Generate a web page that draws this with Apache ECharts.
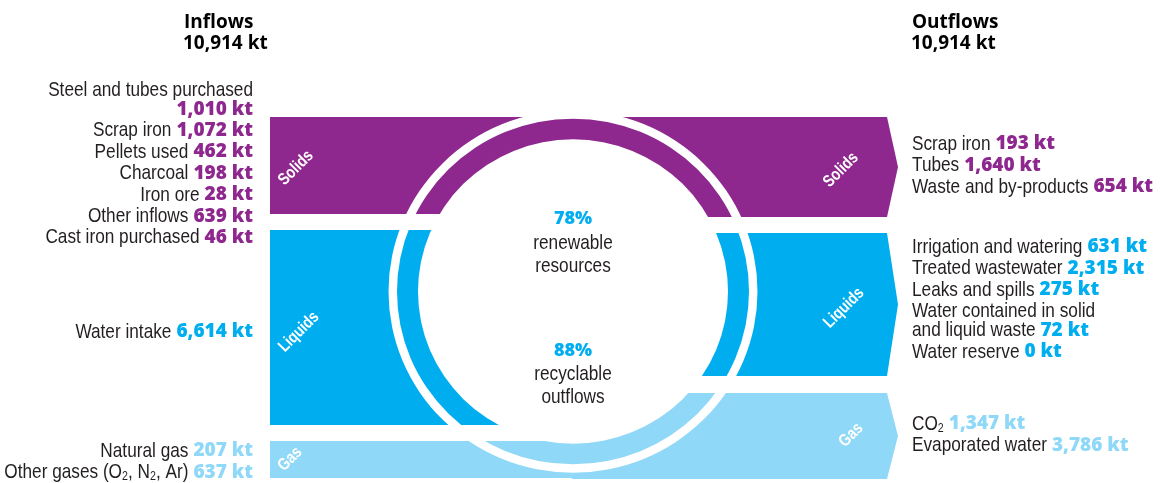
<!DOCTYPE html>
<html>
<head>
<meta charset="utf-8">
<title>Inflows / Outflows</title>
<style>
html, body { margin: 0; padding: 0; background: #fff; }
#chart { width: 1162px; height: 483px; }
</style>
<script src="https://cdn.jsdelivr.net/npm/echarts@6/dist/echarts.min.js"></script>
</head>
<body>
<div id="chart"></div>
<script>
// material groups
var groups = ['Solids', 'Liquids', 'Gas'];
var groupColors = ['#8e288e', '#00aeef', '#8fd8f7'];

// inflows (kt)
var inflowNames = ['Steel and tubes purchased\n', 'Scrap iron', 'Pellets used', 'Charcoal', 'Iron ore',
    'Other inflows', 'Cast iron purchased', 'Water intake', 'Natural gas', 'Other gases (O₂, N₂, Ar)'];
var inflowValues = [1010, 1072, 462, 198, 28, 639, 46, 6614, 207, 637];
var inflowGroup = [0, 0, 0, 0, 0, 0, 0, 1, 2, 2];

// outflows (kt)
var outflowNames = ['Scrap iron', 'Tubes', 'Waste and by-products', 'Irrigation and watering',
    'Treated wastewater', 'Leaks and spills', 'Water contained in solid\nand liquid waste',
    'Water reserve', 'CO₂', 'Evaporated water'];
var outflowValues = [193, 1640, 654, 631, 2315, 275, 72, 0, 1347, 3786];
var outflowGroup = [0, 0, 0, 1, 1, 1, 1, 1, 2, 2];

var totalTitles = ['Inflows', 'Outflows'];
var totals = [10914, 10914];
var ratioValues = [78, 88];
var ratioLabels = [['renewable', 'resources'], ['recyclable', 'outflows']];

// layout, in units of the hidden 1162 x 483 axes
var inBandTop = [117, 230, 441], inBandBottom = [214, 425, 478];
var outBandTop = [117, 233, 393], outBandBottom = [217, 376, 479];
var bandLeft = 270, bandMid = 573, bandRight = 887, arrowTip = 898;
var ringCenter = [573, 291.5], ringInner = 155, gapInner = 176, gapOuter = 184.5, ringSquash = 0.982;

var inTextX = 253, outTextX = 912;
var inTextStart = [90, 332, 451], outTextStart = [144, 247, 424];
var lineStep = 21.4, wrapStep = 19.2;
var inBandLabelPos = [[296, 168], [299, 332], [290, 459]];
var outBandLabelPos = [[841, 170], [844, 308], [851, 435]];

// no narrow font installed: squeeze Liberation Sans instead
var LABEL_FONT = '"Liberation Sans", Arial, sans-serif';
var LABEL_SIZE = 21, SUB_SIZE = 13, NARROW = 0.82;
var VALUE_FONT = '"Open Sans", "Lato", sans-serif';
var VALUE_SIZE = 19;
var SPACE = 5;

var measureCtx = document.createElement('canvas').getContext('2d');
function textWidth(str, font) {
    measureCtx.font = font;
    return measureCtx.measureText(str).width;
}

function kt(v) {
    return v.toLocaleString('en-US') + ' kt';
}

function groupSum(values, grp, g) {
    var s = 0;
    for (var i = 0; i < values.length; i++) if (grp[i] === g) s += values[i];
    return s;
}

var nameRich = {
    n: {fill: '#231f20', fontFamily: LABEL_FONT, fontSize: LABEL_SIZE, verticalAlign: 'middle'},
    s: {fill: '#231f20', fontFamily: LABEL_FONT, fontSize: SUB_SIZE, verticalAlign: 'bottom'}
};

// name text -> rich string, ₂ becomes a real subscript
function nameRichText(name) {
    return '{n|' + name.split('₂').join('}{s|2}{n|') + '}';
}
function nameWidth(name) {
    var parts = name.split('₂');
    var w = 0;
    parts.forEach(function (p) { w += textWidth(p, LABEL_SIZE + 'px ' + LABEL_FONT); });
    w += (parts.length - 1) * textWidth('2', SUB_SIZE + 'px ' + LABEL_FONT);
    return w * NARROW;
}

function nameEl(name, x, y, align) {
    return {
        type: 'text', x: x, y: y, z: 20, silent: true, scaleX: NARROW,
        style: {text: nameRichText(name), rich: nameRich, align: align, verticalAlign: 'middle',
            fontFamily: LABEL_FONT, fontSize: LABEL_SIZE}
    };
}
function valueEl(text, color, x, y, align) {
    return {
        type: 'text', x: x, y: y, z: 20, silent: true,
        style: {text: text, fill: color, fontFamily: VALUE_FONT, fontSize: VALUE_SIZE, fontWeight: 800,
            align: align, verticalAlign: 'middle'}
    };
}

function textBlock(names, values, grp, g, x, y0, side) {
    var els = [];
    var y = y0;
    var first = true;
    var vFont = '800 ' + VALUE_SIZE + 'px ' + VALUE_FONT;
    for (var i = 0; i < names.length; i++) {
        if (grp[i] !== g) continue;
        var parts = names[i].split('\n');
        for (var j = 0; j < parts.length; j++) {
            if (!first) y += j > 0 ? wrapStep : lineStep;
            first = false;
            var name = parts[j];
            var value = j === parts.length - 1 ? kt(values[i]) : null;
            if (side === 0) {
                var vx = x;
                if (value) {
                    els.push(valueEl(value, groupColors[g], x, y, 'right'));
                    vx = x - textWidth(value, vFont) - SPACE;
                }
                if (name) els.push(nameEl(name, vx, y, 'right'));
            } else {
                var nx = x;
                if (name) {
                    els.push(nameEl(name, x, y, 'left'));
                    nx = x + nameWidth(name) + SPACE;
                }
                if (value) els.push(valueEl(value, groupColors[g], nx, y, 'left'));
            }
        }
    }
    return els;
}

var texts = [];
groups.forEach(function (g, i) {
    texts = texts.concat(textBlock(inflowNames, inflowValues, inflowGroup, i, inTextX, inTextStart[i], 0));
    texts = texts.concat(textBlock(outflowNames, outflowValues, outflowGroup, i, outTextX, outTextStart[i], 1));
    // rotated band names
    [inBandLabelPos[i], outBandLabelPos[i]].forEach(function (p) {
        texts.push({
            type: 'text', x: p[0], y: p[1], rotation: Math.PI / 4, scaleX: NARROW, z: 20, silent: true,
            style: {text: g, fill: '#fff', fontFamily: LABEL_FONT, fontSize: 17, fontWeight: 'bold',
                align: 'center', verticalAlign: 'middle'}
        });
    });
});

// titles
[184, 912].forEach(function (x, i) {
    texts.push({type: 'text', x: x, y: 22.5, z: 20, silent: true,
        style: {text: totalTitles[i], fill: '#000', fontFamily: VALUE_FONT, fontSize: 19, fontWeight: 'bold', verticalAlign: 'middle'}});
    texts.push({type: 'text', x: x - 1, y: 43.5, z: 20, silent: true,
        style: {text: kt(totals[i]), fill: '#000', fontFamily: VALUE_FONT, fontSize: 19, fontWeight: 'bold', verticalAlign: 'middle'}});
});

// ratios in the middle of the ring
[[219, 243, 266], [351, 374, 397]].forEach(function (ys, i) {
    texts.push({type: 'text', x: ringCenter[0], y: ys[0], z: 20, silent: true,
        style: {text: ratioValues[i] + '%', fill: groupColors[1], fontFamily: VALUE_FONT, fontSize: 18, fontWeight: 800,
            align: 'center', verticalAlign: 'middle'}});
    ratioLabels[i].forEach(function (l, k) {
        texts.push({type: 'text', x: ringCenter[0], y: ys[k + 1], z: 20, silent: true, scaleX: NARROW,
            style: {text: l, fill: '#231f20', fontFamily: LABEL_FONT, fontSize: LABEL_SIZE, align: 'center', verticalAlign: 'middle'}});
    });
});

// band data: [side, group, total kt]
var bandData = [];
groups.forEach(function (g, i) {
    bandData.push([0, i, groupSum(inflowValues, inflowGroup, i)]);
    bandData.push([1, i, groupSum(outflowValues, outflowGroup, i)]);
});

function renderBand(params, api) {
    var side = api.value(0), g = api.value(1);
    var top = side ? outBandTop[g] : inBandTop[g];
    var bottom = side ? outBandBottom[g] : inBandBottom[g];
    var pts;
    if (side === 0) {
        pts = [[bandLeft, top], [bandMid + 1, top], [bandMid + 1, bottom], [bandLeft, bottom]];
    } else {
        pts = [[bandMid - 1, top], [bandRight, top], [arrowTip, (top + bottom) / 2], [bandRight, bottom], [bandMid - 1, bottom]];
    }
    return {
        type: 'polygon',
        shape: {points: pts.map(function (p) { return api.coord(p); })},
        style: {fill: groupColors[g]}
    };
}

// white gap ring + white centre disc cut the bands into the loop
function renderRing(params, api) {
    var c = api.coord([api.value(0), api.value(1)]);
    var k = api.size([1, 0])[0];
    return {
        type: 'group',
        children: [{
            type: 'ring', scaleY: ringSquash, originX: c[0], originY: c[1],
            shape: {cx: c[0], cy: c[1], r: gapOuter * k, r0: gapInner * k},
            style: {fill: '#fff'}
        }, {
            type: 'circle', scaleY: ringSquash, originX: c[0], originY: c[1],
            shape: {cx: c[0], cy: c[1], r: ringInner * k},
            style: {fill: '#fff'}
        }]
    };
}

var chart = echarts.init(document.getElementById('chart'));
var option = {
    animation: false,
    grid: {left: 0, right: 0, top: 0, bottom: 0},
    xAxis: {type: 'value', min: 0, max: 1162, show: false},
    yAxis: {type: 'value', min: 0, max: 483, inverse: true, show: false},
    graphic: texts,
    series: [{
        type: 'custom',
        name: 'bands',
        silent: true,
        clip: false,
        renderItem: renderBand,
        data: bandData,
        z: 2
    }, {
        type: 'custom',
        name: 'ring',
        silent: true,
        clip: false,
        renderItem: renderRing,
        data: [ringCenter],
        z: 3
    }]
};
chart.setOption(option);
</script>
</body>
</html>
